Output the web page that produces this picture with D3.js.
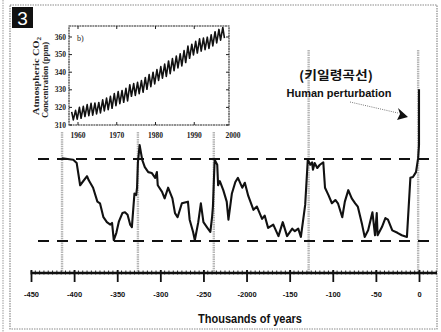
<!DOCTYPE html>
<html><head><meta charset="utf-8">
<script src="https://cdn.jsdelivr.net/npm/d3@7"></script>
<style>body{margin:0;background:#fff}svg{display:block}</style>
</head><body><svg id="c" width="441" height="332"></svg>
<script>
// ---- Main chart data (Vostok CO2, ppm vs thousands of years) ----
const vostokAge=[-414,-401,-397,-393,-385,-383,-378,-373,-370,-366,-362,-358,-356,-354,-351,-348,-344,-341,-338,-335,-333,-330,-328,-327,-326,-324,-321,-318,-314,-310,-306,-304,-303,-298,-295,-291,-286,-283,-280,-275,-268,-266,-262,-260,-256,-253,-250,-246,-242,-240,-239,-237,-234,-233,-231,-227,-223,-221,-217,-213,-210,-205,-202,-198,-192,-188,-182,-179,-175,-169,-163,-158,-153,-147,-144,-140,-137,-132,-129,-126,-124,-123,-121,-118,-115,-111,-109,-105,-101,-97,-94,-89,-86,-82,-78,-74,-71,-66,-63,-59,-54,-51,-49,-48,-43,-39,-36,-31,-25,-20,-14,-10,-7,-3.5,-1,0,0];
const vostokCO2=[281,279,275,248,259,254,245,228,226,209,203,200,202,181,190,204,214,215,212,200,197,238,236,245,276,297,279,270,264,263,257,264,248,240,232,245,232,214,209,226,228,206,191,181,203,226,203,197,191,209,222,279,273,248,253,242,228,206,238,252,257,245,251,235,218,222,207,211,196,200,186,203,186,195,192,195,185,224,279,273,276,267,275,269,273,276,245,236,226,230,226,209,228,242,232,226,222,200,185,193,215,187,214,187,197,208,206,193,190,187,185,257,258,264,281,297,365];
const refLevels=[180,280];
const interglacials=[-414,-326,-238,-128,-1];
const axisTicks=[-450,-400,-350,-300,-250,-200,-150,-100,-50,0];
const axisTickLabels=["-450","-400","-350","-300","-250","-2000","-150","-100","-50","0"];
// ---- Inset data (Mauna Loa, seasonal maxima/minima) ----
const insetYears=[1958,1959,1960,1961,1962,1963,1964,1965,1966,1967,1968,1969,1970,1971,1972,1973,1974,1975,1976,1977,1978,1979,1980,1981,1982,1983,1984,1985,1986,1987,1988,1989,1990,1991,1992,1993,1994,1995,1996,1997];
const co2Max=[317.5,318.3,320.0,320.6,321.6,322.3,322.5,322.8,324.3,325.3,326.3,327.9,329.0,329.6,330.8,332.9,333.5,334.2,335.2,337.0,338.7,340.0,341.5,343.2,344.6,346.4,347.7,349.2,350.4,352.3,354.8,355.9,357.5,359.0,359.4,359.9,361.2,363.0,364.3,365.4];
const co2Min=[312.9,313.3,313.8,314.8,315.3,315.6,316.3,316.9,318.0,318.7,319.5,321.0,322.1,322.9,323.7,326.3,326.8,327.8,328.6,330.3,331.8,333.3,335.3,336.6,337.6,339.2,340.9,342.4,343.6,345.5,347.9,349.8,350.9,352.0,352.8,353.5,354.9,356.6,358.2,359.4];
const insetYTicks=[310,320,330,340,350,360];
const insetXTicks=[1960,1970,1980,1990,2000];

const svg=d3.select("#c");
svg.append("rect").attr("width",441).attr("height",332).attr("fill","#fff");

// frame
svg.append("rect").attr("x",10).attr("y",5).attr("width",427).attr("height",324)
  .attr("fill","none").attr("stroke","#8a8a8a").attr("stroke-width",1.2).attr("stroke-dasharray","1.5,1");
svg.append("line").attr("x1",3).attr("x2",3).attr("y1",0).attr("y2",332)
  .attr("stroke","#9a9a9a").attr("stroke-width",1).attr("stroke-dasharray","1.5,1");
svg.append("rect").attr("x",12).attr("y",7).attr("width",21).attr("height",21).attr("fill","#111");
svg.append("text").attr("x",22.5).attr("y",24.5).attr("text-anchor","middle")
  .attr("font-family","Liberation Sans, Arial, sans-serif").attr("font-size",19).attr("fill","#fff").text("3");

// scales
const x=d3.scaleLinear().domain([-450,0]).range([31,419]);
const y=d3.scaleLinear().domain([180,280]).range([241,159]);
const axisY=273;

// interglacial gray lines
const bandTop=[132,132,132,50,50];
svg.append("g").selectAll("line").data(interglacials).join("line")
  .attr("x1",d=>x(d)).attr("x2",d=>x(d)).attr("y1",(d,i)=>bandTop[i]).attr("y2",axisY)
  .attr("stroke","#b5b5b5").attr("stroke-width",2.4).attr("stroke-dasharray","1.5,0.8");

// dashed reference lines
svg.append("g").selectAll("line").data(refLevels).join("line")
  .attr("x1",38).attr("x2",437).attr("y1",d=>y(d)).attr("y2",d=>y(d))
  .attr("stroke","#111").attr("stroke-width",1.8).attr("stroke-dasharray","11,8");

// curve
const pts=vostokAge.map((a,i)=>[a,vostokCO2[i]]);
svg.append("path").datum(pts)
  .attr("d",d3.line().x(d=>x(d[0])).y(d=>y(d[1])))
  .attr("fill","none").attr("stroke","#111").attr("stroke-width",2.1).attr("stroke-linejoin","round");

// axis
const minor=d3.range(-450,21,5);
svg.append("g").selectAll("line").data(minor).join("line")
  .attr("x1",d=>x(d)).attr("x2",d=>x(d)).attr("y1",axisY-2.5).attr("y2",axisY+1.5)
  .attr("stroke","#111").attr("stroke-width",0.9);
svg.append("line").attr("x1",x(-450)).attr("x2",437).attr("y1",axisY).attr("y2",axisY)
  .attr("stroke","#111").attr("stroke-width",2.4);
const ax=svg.append("g").attr("transform",`translate(0,${axisY})`)
  .call(d3.axisBottom(x).tickValues(axisTicks).tickFormat((d,i)=>axisTickLabels[i]).tickSize(9).tickPadding(10));
ax.select(".domain").remove();
ax.selectAll(".tick line").attr("stroke","#111").attr("stroke-width",1.8).attr("y1",-3);
ax.selectAll(".tick text").attr("font-family","Liberation Sans, Arial, sans-serif").attr("font-size",7.5)
  .attr("font-weight","bold").attr("fill","#111");

svg.append("text").attr("x",250).attr("y",323).attr("text-anchor","middle")
  .attr("font-family","Liberation Sans, Arial, sans-serif").attr("font-weight","bold").attr("font-size",12.5)
  .attr("textLength",104).attr("lengthAdjust","spacingAndGlyphs").attr("fill","#111").text("Thousands of years");

// annotation
svg.append("text").attr("x",336).attr("y",80).attr("text-anchor","middle")
  .attr("font-family","Noto Sans CJK KR, sans-serif").attr("font-weight","bold").attr("font-size",12.5)
  .attr("textLength",74).attr("lengthAdjust","spacingAndGlyphs").attr("fill","#111").text("(키일령곡선)");
svg.append("text").attr("x",339).attr("y",97).attr("text-anchor","middle")
  .attr("font-family","Liberation Sans, Arial, sans-serif").attr("font-weight","bold").attr("font-size",11)
  .attr("textLength",105).attr("lengthAdjust","spacingAndGlyphs").attr("fill","#111").text("Human perturbation");
svg.append("line").attr("x1",350).attr("y1",102).attr("x2",398).attr("y2",113)
  .attr("stroke","#777").attr("stroke-width",1).attr("stroke-dasharray","1,1.2");
svg.append("path").attr("d","M408,117 L398,108 L400,114 L397,120 Z").attr("fill","#111");

// ---- inset ----
const ix=d3.scaleLinear().domain([1960,2000]).range([78,233]);
const iy=d3.scaleLinear().domain([310,360]).range([125,37]);
const inset=svg.append("g");
inset.append("rect").attr("x",69).attr("y",26).attr("width",160).attr("height",99)
  .attr("fill","#fff").attr("stroke","#222").attr("stroke-width",1.1).attr("stroke-dasharray","2,0.6");
const ipts=[];
insetYears.forEach((yr,i)=>{ipts.push([yr+0.37,co2Max[i]]);ipts.push([yr+0.79,co2Min[i]]);});
inset.append("path").datum(ipts)
  .attr("d",d3.line().x(d=>ix(d[0])).y(d=>iy(d[1])))
  .attr("fill","none").attr("stroke","#111").attr("stroke-width",1.6).attr("stroke-linejoin","round");
// y ticks
inset.selectAll(".yt").data(insetYTicks).join("line").attr("class","yt")
  .attr("x1",69).attr("x2",72).attr("y1",d=>iy(d)).attr("y2",d=>iy(d)).attr("stroke","#222");
inset.selectAll(".yr").data(insetYTicks).join("line").attr("class","yr")
  .attr("x1",226).attr("x2",229).attr("y1",d=>iy(d)).attr("y2",d=>iy(d)).attr("stroke","#222");
inset.selectAll(".yl").data(insetYTicks).join("text").attr("class","yl")
  .attr("x",66).attr("y",d=>iy(d)+2.5).attr("text-anchor","end")
  .attr("font-family","Liberation Serif, serif").attr("font-size",7.5).attr("font-weight","bold").attr("fill","#222")
  .text(d=>d);
inset.selectAll(".xt").data(insetXTicks.filter(d=>ix(d)<229)).join("line").attr("class","xt")
  .attr("x1",d=>ix(d)).attr("x2",d=>ix(d)).attr("y1",125).attr("y2",122).attr("stroke","#222");
inset.selectAll(".xtt").data(insetXTicks.filter(d=>ix(d)<229)).join("line").attr("class","xtt")
  .attr("x1",d=>ix(d)).attr("x2",d=>ix(d)).attr("y1",26).attr("y2",29).attr("stroke","#222");
inset.selectAll(".xl").data(insetXTicks).join("text").attr("class","xl")
  .attr("x",d=>ix(d)).attr("y",138).attr("text-anchor","middle")
  .attr("font-family","Liberation Serif, serif").attr("font-size",7.5).attr("font-weight","bold").attr("fill","#222")
  .text(d=>d);
inset.append("text").attr("x",77).attr("y",41).attr("font-family","Liberation Serif, serif")
  .attr("font-size",8).attr("fill","#222").text("b)");
inset.append("text").attr("transform","translate(39,76) rotate(-90)").attr("text-anchor","middle")
  .attr("font-family","Liberation Serif, serif").attr("font-size",8).attr("font-weight","bold").attr("fill","#222")
  .attr("textLength",78).attr("lengthAdjust","spacingAndGlyphs")
  .html("Atmospheric CO<tspan font-size='5.5' dy='1.5'>2</tspan>");
inset.append("text").attr("transform","translate(48,80) rotate(-90)").attr("text-anchor","middle")
  .attr("font-family","Liberation Serif, serif").attr("font-size",8).attr("font-weight","bold").attr("fill","#222")
  .attr("textLength",76).attr("lengthAdjust","spacingAndGlyphs")
  .text("Concentration (ppm)");
</script></body></html>
